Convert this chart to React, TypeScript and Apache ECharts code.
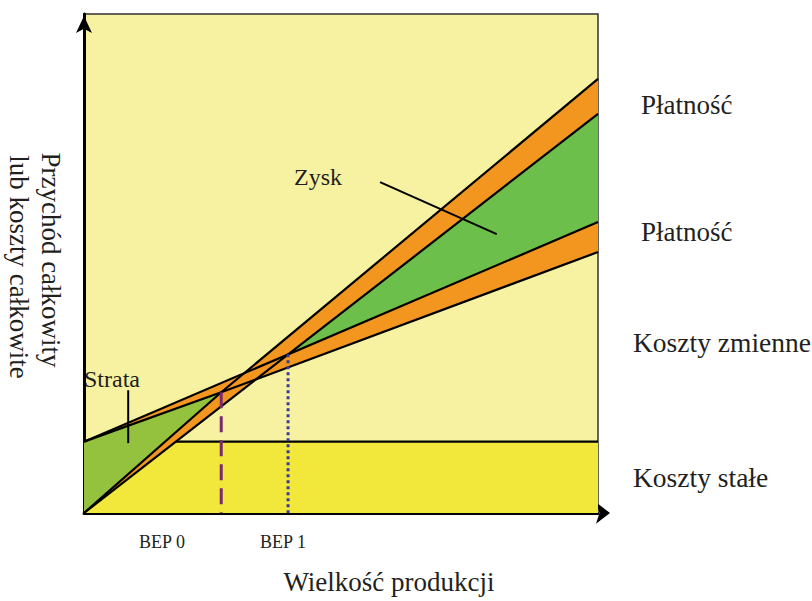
import React, { useEffect, useRef } from "react";
import * as echarts from "echarts";

// ---- data (value units: x 0..100 output, y 0..100 money) ----
const xRange = [0, 100];
const yRange = [0, 100];
const fixedCost = 14.3;
const revenueHigh: number[][] = [[0, 0], [26.7, 24.2], [100, 87]];
const revenueLow: number[][] = [[0, 0], [100, 80]];
const costHigh: number[][] = [[0, 14.3], [100, 58.3]];
const costLow: number[][] = [[0, 14.3], [26.7, 24.2], [100, 52.3]];
const bepNames = ["BEP 0", "BEP 1"];
const bepX = [26.7, 39.7];
const bepY = [24.2, 31.8];
const strataPointer: number[][] = [[8.6, 24.6], [8.6, 14.0]];
const zyskPointer: number[][] = [[57.6, 66.3], [80.3, 55.9]];

const LIGHT = "#f7f2a1";
const YELLOW = "#f2e83c";
const ORANGE = "#f39620";
const GREEN_LOSS = "#95c23e";
const GREEN_PROFIT = "#6cbf4a";
const FONT = "Liberation Serif";
const TXT = "#231f20";

function polygonSeries(points: number[][], color: string, z: number) {
  return {
    type: "custom",
    silent: true,
    z,
    clip: true,
    data: [[points[0][0], points[0][1]]],
    renderItem: (_params: any, api: any) => ({
      type: "polygon",
      shape: { points: points.map((p) => api.coord(p)) },
      style: { fill: color, stroke: "none" },
    }),
  };
}

function lineSeries(points: number[][], color: string, width: number, type: any, z: number) {
  return {
    type: "line",
    silent: true,
    z,
    symbol: "none",
    data: points,
    lineStyle: { color, width, type },
  };
}

function label(text: string, x: number, y: number, size: number, align = "left", rotation = 0) {
  return {
    type: "text",
    x,
    y,
    rotation,
    silent: true,
    style: {
      text,
      fontSize: size,
      fontFamily: FONT,
      fill: TXT,
      textAlign: align,
      align,
      textVerticalAlign: "middle",
      verticalAlign: "middle",
    },
  };
}

export default function App() {
  const ref = useRef<HTMLDivElement>(null);
  useEffect(() => {
    if (!ref.current) return;
    const chart = echarts.init(ref.current, undefined, { renderer: "svg" });

    const fcStart = fixedCost / (revenueLow[1][1] / revenueLow[1][0]);
    const fixedArea = [[0, 0], [100, 0], [100, fixedCost], [0, fixedCost]];
    const lossArea = [[0, fixedCost], [bepX[0], bepY[0]], [0, 0]];
    const profitArea = [[bepX[1], bepY[1]], revenueLow[1], costHigh[1]];
    const revenueBand = [...revenueHigh, ...revenueLow.slice().reverse().slice(0, 1)];
    const costBand = [...costHigh, ...costLow.slice().reverse().slice(0, costLow.length - 1)];

    const option: any = {
      animation: false,
      grid: {
        left: 84,
        top: 14,
        width: 514,
        height: 499,
        show: true,
        backgroundColor: LIGHT,
        borderColor: "#333",
        borderWidth: 1.5,
      },
      xAxis: {
        type: "value",
        min: xRange[0],
        max: xRange[1],
        axisLine: {
          show: true,
          onZero: false,
          lineStyle: { color: "#000", width: 3 },
          symbol: ["none", "arrow"],
          symbolSize: [16, 14],
          symbolOffset: [0, 12],
        },
        axisTick: { show: false },
        axisLabel: { show: false },
        splitLine: { show: false },
      },
      yAxis: {
        type: "value",
        min: yRange[0],
        max: yRange[1],
        axisLine: {
          show: true,
          onZero: false,
          lineStyle: { color: "#000", width: 3 },
          symbol: ["none", "arrow"],
          symbolSize: [12, 17],
          symbolOffset: [0, -2],
        },
        axisTick: { show: false },
        axisLabel: { show: false },
        splitLine: { show: false },
      },
      series: [
        polygonSeries(fixedArea, YELLOW, 1),
        polygonSeries(lossArea, GREEN_LOSS, 2),
        polygonSeries(profitArea, GREEN_PROFIT, 2),
        polygonSeries(revenueBand, ORANGE, 3),
        polygonSeries(costBand, ORANGE, 3),
        lineSeries([[fcStart, fixedCost], [100, fixedCost]], "#000", 2.2, "solid", 5),
        lineSeries(revenueHigh, "#000", 2.2, "solid", 5),
        lineSeries(revenueLow, "#000", 2.2, "solid", 5),
        lineSeries(costHigh, "#000", 2.2, "solid", 5),
        lineSeries(costLow, "#000", 2.2, "solid", 5),
        lineSeries([[bepX[0], bepY[0]], [bepX[0], 0]], "#7a2a6f", 3, [16, 8], 6),
        lineSeries([[bepX[1], bepY[1]], [bepX[1], 0]], "#3b3b9b", 3, [3, 3], 6),
        lineSeries(strataPointer, "#000", 2, "solid", 7),
        lineSeries(zyskPointer, "#000", 2, "solid", 7),
      ],
      graphic: [
        label("Płatność", 641, 105, 27),
        label("Płatność", 641, 232, 27),
        label("Koszty zmienne", 633, 342, 27.5),
        label("Koszty stałe", 633, 477, 27.5),
        label("Strata", 84, 379, 24),
        label("Zysk", 294, 177, 24),
        label(bepNames[0], 162, 542, 18, "center"),
        label(bepNames[1], 283, 542, 18, "center"),
        label("Wielkość produkcji", 389, 582, 27, "center"),
        label("Przychód całkowity", 51, 260, 27, "center", -Math.PI / 2),
        label("lub koszty całkowite", 19, 267, 27, "center", -Math.PI / 2),
      ],
    };
    chart.setOption(option);
    return () => chart.dispose();
  }, []);
  return (
    <div
      ref={ref}
      style={{ position: "absolute", left: 0, top: 0, width: 812, height: 601 }}
    />
  );
}
